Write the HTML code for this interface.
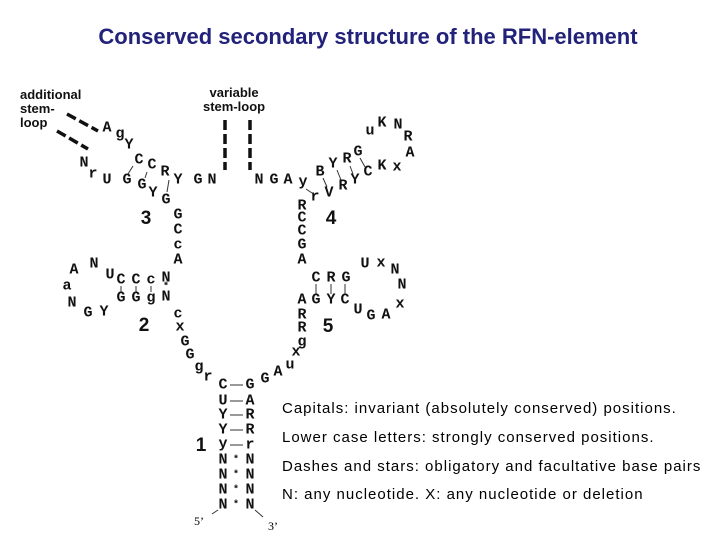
<!DOCTYPE html>
<html><head><meta charset="utf-8"><style>
body{margin:0;width:720px;height:540px;background:#fff;position:relative;overflow:hidden}
.t{position:absolute;left:0;width:736px;text-align:center;top:24px;font:bold 22px "Liberation Sans",sans-serif;color:#22227a}
.l{position:absolute;transform:translate(-50%,-50%);font:bold 15px "Liberation Mono",monospace;color:#111;line-height:1}
.n{position:absolute;transform:translate(-50%,-50%);font:bold 19px "Liberation Sans",sans-serif;color:#111}
.lab{position:absolute;font:bold 13px "Liberation Sans",sans-serif;color:#111;line-height:14px}
.lg{position:absolute;left:282px;font:15px "Liberation Sans",sans-serif;color:#000;letter-spacing:1px;white-space:nowrap}
.p{position:absolute;font:12px "Liberation Serif",serif}
svg{position:absolute;left:0;top:0}
</style></head><body>
<div class="t">Conserved secondary structure of the RFN-element</div>
<div class="lab" style="left:20px;top:88px">additional<br>stem-<br>loop</div>
<div class="lab" style="left:203px;top:86px;text-align:center">variable<br>stem-loop</div>
<svg width="720" height="540">
<g stroke="#111" stroke-width="3.5" stroke-dasharray="10,4">
<line x1="67" y1="114" x2="98" y2="131"/><line x1="57" y1="131" x2="88" y2="149"/>
<line x1="225" y1="120" x2="225" y2="170"/><line x1="250" y1="120" x2="250" y2="170"/>
</g>
<g stroke="#333" stroke-width="1">
<line x1="121" y1="286" x2="121" y2="292"/><line x1="136" y1="286" x2="136" y2="292"/><line x1="151" y1="286" x2="151" y2="292"/>
<line x1="316" y1="284" x2="316" y2="294"/><line x1="331" y1="284" x2="331" y2="294"/><line x1="345" y1="284" x2="345" y2="294"/>
<line x1="230" y1="385" x2="243" y2="385"/><line x1="230" y1="401" x2="243" y2="401"/><line x1="230" y1="415" x2="243" y2="415"/><line x1="230" y1="430" x2="243" y2="430"/><line x1="230" y1="445" x2="243" y2="445"/>
<line x1="133" y1="166" x2="128" y2="174"/><line x1="147" y1="172" x2="145" y2="178"/><line x1="169" y1="180" x2="167" y2="192"/>
<line x1="306" y1="189" x2="312" y2="193"/><line x1="323" y1="178" x2="327" y2="187"/><line x1="337" y1="170" x2="341" y2="180"/><line x1="350" y1="166" x2="353" y2="174"/><line x1="360" y1="158" x2="365" y2="167"/>
<line x1="212" y1="514" x2="218" y2="510"/><line x1="255" y1="510" x2="263" y2="517"/>
</g>
</svg>
<span class="l" style="left:107px;top:128px">A</span><span class="l" style="left:120px;top:134px">g</span><span class="l" style="left:129px;top:145px">Y</span>
<span class="l" style="left:139px;top:160px">C</span><span class="l" style="left:152px;top:165px">C</span><span class="l" style="left:165px;top:172px">R</span><span class="l" style="left:178px;top:180px">Y</span><span class="l" style="left:198px;top:180px">G</span><span class="l" style="left:212px;top:180px">N</span>
<span class="l" style="left:84px;top:163px">N</span><span class="l" style="left:93px;top:174px">r</span><span class="l" style="left:107px;top:180px">U</span><span class="l" style="left:127px;top:180px">G</span><span class="l" style="left:142px;top:185px">G</span><span class="l" style="left:153px;top:193px">Y</span><span class="l" style="left:166px;top:200px">G</span>
<span class="l" style="left:178px;top:215px">G</span><span class="l" style="left:178px;top:230px">C</span><span class="l" style="left:178px;top:245px">c</span><span class="l" style="left:178px;top:260px">A</span>
<span class="n" style="left:146px;top:219px">3</span><span class="n" style="left:331px;top:219px">4</span><span class="n" style="left:144px;top:326px">2</span><span class="n" style="left:328px;top:327px">5</span><span class="n" style="left:201px;top:446px">1</span>
<span class="l" style="left:259px;top:180px">N</span><span class="l" style="left:274px;top:180px">G</span><span class="l" style="left:288px;top:180px">A</span><span class="l" style="left:303px;top:182px">y</span><span class="l" style="left:315px;top:197px">r</span><span class="l" style="left:329px;top:193px">V</span><span class="l" style="left:343px;top:186px">R</span><span class="l" style="left:355px;top:180px">Y</span><span class="l" style="left:368px;top:172px">C</span><span class="l" style="left:382px;top:166px">K</span><span class="l" style="left:397px;top:167px">x</span>
<span class="l" style="left:320px;top:172px">B</span><span class="l" style="left:333px;top:164px">Y</span><span class="l" style="left:347px;top:159px">R</span><span class="l" style="left:358px;top:152px">G</span>
<span class="l" style="left:370px;top:131px">u</span><span class="l" style="left:382px;top:123px">K</span><span class="l" style="left:398px;top:125px">N</span><span class="l" style="left:408px;top:137px">R</span><span class="l" style="left:410px;top:153px">A</span>
<span class="l" style="left:302px;top:206px">R</span><span class="l" style="left:302px;top:218px">C</span><span class="l" style="left:302px;top:231px">C</span><span class="l" style="left:302px;top:245px">G</span><span class="l" style="left:302px;top:260px">A</span>
<span class="l" style="left:74px;top:270px">A</span><span class="l" style="left:94px;top:264px">N</span><span class="l" style="left:67px;top:286px">a</span><span class="l" style="left:72px;top:303px">N</span><span class="l" style="left:88px;top:313px">G</span><span class="l" style="left:104px;top:312px">Y</span>
<span class="l" style="left:110px;top:275px">U</span><span class="l" style="left:121px;top:280px">C</span><span class="l" style="left:136px;top:280px">C</span><span class="l" style="left:151px;top:280px">c</span><span class="l" style="left:166px;top:278px">N</span>
<span class="l" style="left:121px;top:298px">G</span><span class="l" style="left:136px;top:298px">G</span><span class="l" style="left:151px;top:298px">g</span><span class="l" style="left:166px;top:297px">N</span><span class="l" style="left:166px;top:288px;font-size:10px">*</span>
<span class="l" style="left:178px;top:314px">c</span><span class="l" style="left:180px;top:327px">x</span><span class="l" style="left:185px;top:342px">G</span><span class="l" style="left:190px;top:355px">G</span><span class="l" style="left:199px;top:367px">g</span><span class="l" style="left:208px;top:377px">r</span>
<span class="l" style="left:223px;top:385px">C</span><span class="l" style="left:250px;top:385px">G</span>
<span class="l" style="left:223px;top:401px">U</span><span class="l" style="left:250px;top:401px">A</span>
<span class="l" style="left:223px;top:415px">Y</span><span class="l" style="left:250px;top:415px">R</span>
<span class="l" style="left:223px;top:430px">Y</span><span class="l" style="left:250px;top:430px">R</span>
<span class="l" style="left:223px;top:444px">y</span><span class="l" style="left:250px;top:445px">r</span>
<span class="l" style="left:223px;top:460px">N</span><span class="l" style="left:236px;top:461px;font-size:10px">*</span><span class="l" style="left:250px;top:460px">N</span>
<span class="l" style="left:223px;top:475px">N</span><span class="l" style="left:236px;top:476px;font-size:10px">*</span><span class="l" style="left:250px;top:475px">N</span>
<span class="l" style="left:223px;top:490px">N</span><span class="l" style="left:236px;top:491px;font-size:10px">*</span><span class="l" style="left:250px;top:490px">N</span>
<span class="l" style="left:223px;top:505px">N</span><span class="l" style="left:236px;top:506px;font-size:10px">*</span><span class="l" style="left:250px;top:505px">N</span>
<span class="p" style="left:194px;top:514px">5’</span><span class="p" style="left:268px;top:519px">3’</span>
<span class="l" style="left:265px;top:379px">G</span><span class="l" style="left:278px;top:372px">A</span><span class="l" style="left:290px;top:365px">u</span><span class="l" style="left:296px;top:352px">x</span><span class="l" style="left:302px;top:342px">g</span><span class="l" style="left:302px;top:328px">R</span><span class="l" style="left:302px;top:315px">R</span><span class="l" style="left:302px;top:300px">A</span>
<span class="l" style="left:316px;top:300px">G</span><span class="l" style="left:331px;top:300px">Y</span><span class="l" style="left:345px;top:300px">C</span>
<span class="l" style="left:316px;top:278px">C</span><span class="l" style="left:331px;top:278px">R</span><span class="l" style="left:346px;top:278px">G</span>
<span class="l" style="left:358px;top:310px">U</span><span class="l" style="left:371px;top:316px">G</span><span class="l" style="left:386px;top:315px">A</span><span class="l" style="left:400px;top:304px">x</span><span class="l" style="left:402px;top:285px">N</span><span class="l" style="left:395px;top:270px">N</span><span class="l" style="left:381px;top:263px">x</span><span class="l" style="left:365px;top:264px">U</span>
<div class="lg" style="top:400px">Capitals: invariant (absolutely conserved) positions.</div>
<div class="lg" style="top:429px">Lower case letters: strongly conserved positions.</div>
<div class="lg" style="top:458px">Dashes and stars: obligatory and facultative base pairs</div>
<div class="lg" style="top:486px">N: any nucleotide. X: any nucleotide or deletion</div>
</body></html>
